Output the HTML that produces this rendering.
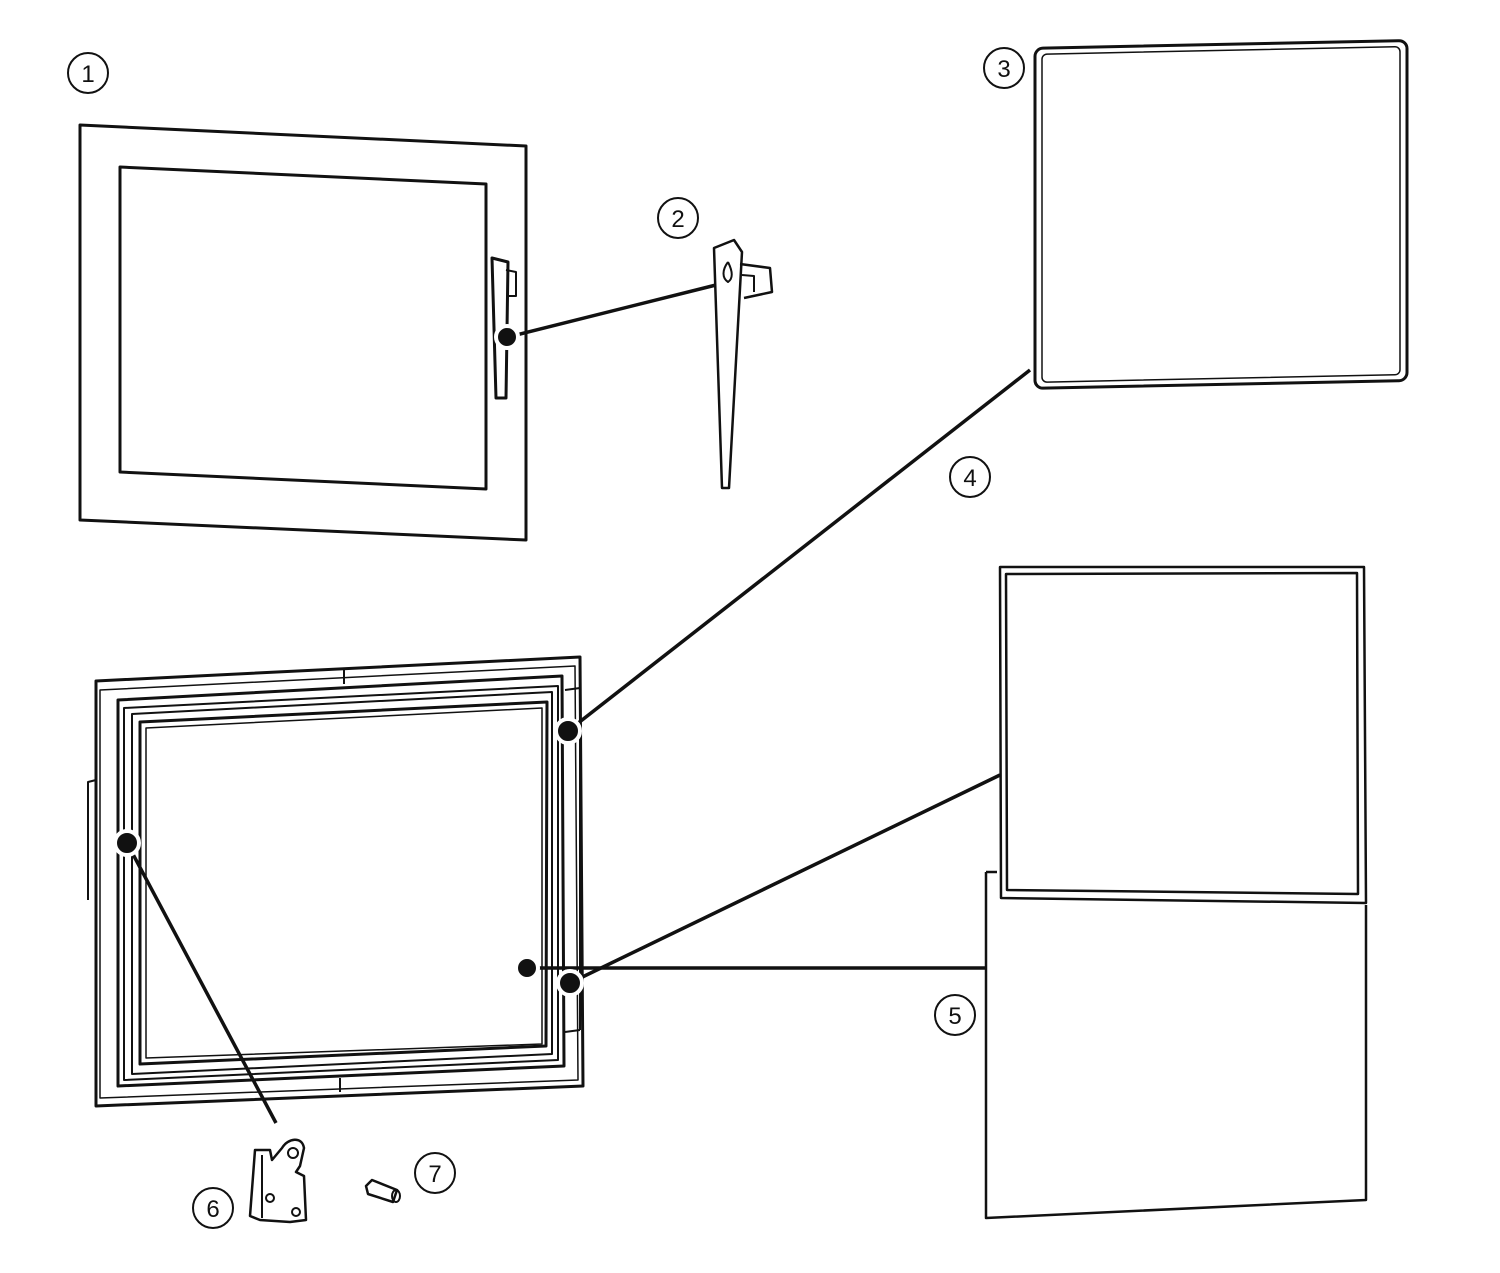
<!DOCTYPE html>
<html><head><style>html,body{margin:0;padding:0;background:#fff}svg{display:block}</style></head>
<body>
<svg width="1500" height="1273" viewBox="0 0 1500 1273" xmlns="http://www.w3.org/2000/svg" font-family="Liberation Sans, sans-serif">
<g fill="none" stroke="#111" stroke-linejoin="round">
<!-- 1: door -->
<path d="M80 125 L526 146 L526 540 L80 520 Z" stroke-width="3"/>
<path d="M120 167 L486 184 L486 489 L120 472 Z" stroke-width="3"/>
<!-- handle on door -->
<path d="M492 258 L508 262 L506 398 L496 398 Z" stroke-width="3"/>
<path d="M506 270 L516 272 L516 296 L506 296" stroke-width="2"/>
<!-- 2: handle -->
<path d="M714 248 L734 240 L742 252 L729 488 L722 488 Z" stroke-width="2.5"/>
<path d="M714 248 L722 488" stroke-width="1.5"/>
<path d="M740 264 L770 268 L772 292 L744 298" stroke-width="2.5"/>
<path d="M742 275 L754 276 L754 292" stroke-width="2"/>
<path d="M728 262 C722 270 722 278 728 282 C734 278 732 270 728 262" stroke-width="2"/>
<!-- 3: gasket -->
<rect x="1035" y="48" width="372" height="340" rx="8" transform="skewY(-1.2) translate(0,22)" stroke-width="3"/>
<rect x="1042" y="54" width="358" height="328" rx="5" transform="skewY(-1.2) translate(0,22)" stroke-width="1.5"/>
<!-- 5: glass pieces -->
<path d="M1000 567 L1364 567 L1366 903 L1001 898 Z" stroke-width="2.5"/>
<path d="M1006 574 L1357 573 L1358 894 L1007 890 Z" stroke-width="2.5"/>
<path d="M986 872 L986 1218 L1366 1200 L1366 905" stroke-width="2.5"/>
<path d="M986 872 L997 872" stroke-width="2.5"/>
<!-- bottom frame -->
<path d="M96 681 L580 657 L583 1086 L96 1106 Z" stroke-width="3"/>
<path d="M100 690 L575 666 L578 1080 L100 1098 Z" stroke-width="1.5"/>
<path d="M118 700 L562 676 L564 1066 L118 1086 Z" stroke-width="3"/>
<path d="M124 708 L558 686 L558 1060 L124 1080 Z" stroke-width="2"/>
<path d="M132 714 L552 692 L552 1054 L132 1074 Z" stroke-width="2"/>
<path d="M140 722 L547 702 L546 1046 L140 1064 Z" stroke-width="3"/>
<path d="M146 728 L542 708 L542 1044 L146 1058 Z" stroke-width="1.5"/>
<path d="M565 690 L580 688 M565 1032 L580 1030 M580 720 L580 1030" stroke-width="2"/>
<path d="M96 780 L88 782 L88 900" stroke-width="2"/>
<path d="M344 670 L344 684 M340 1078 L340 1092" stroke-width="2"/>
<!-- 6: hinge -->
<path d="M255 1150 L270 1150 L272 1160 L282 1148 C288 1138 302 1136 304 1148 L300 1166 L296 1172 L304 1176 L306 1220 L290 1222 L260 1220 L250 1216 Z" stroke-width="2.5"/>
<circle cx="293" cy="1153" r="5" stroke-width="2"/>
<circle cx="270" cy="1198" r="4" stroke-width="2"/>
<circle cx="296" cy="1212" r="4" stroke-width="2"/>
<path d="M262 1155 L262 1218" stroke-width="2"/>
<!-- 7: pin -->
<path d="M366 1186 L372 1180 L397 1190 L393 1202 L368 1194 Z" stroke-width="2.5"/>
<ellipse cx="396" cy="1196" rx="4" ry="6" stroke-width="2"/>
</g>
<!-- leader lines -->
<g stroke="#111" stroke-width="3.5" fill="none">
<line x1="508" y1="337" x2="716" y2="285"/>
<line x1="568" y1="731" x2="1030" y2="370"/>
<line x1="570" y1="983" x2="1000" y2="775"/>
<line x1="527" y1="968" x2="986" y2="968"/>
<line x1="127" y1="843" x2="276" y2="1123"/>
</g>
<g stroke="#fff" stroke-width="4" fill="#111">
<circle cx="507" cy="337" r="11"/>
<circle cx="568" cy="731" r="12"/>
<circle cx="127" cy="843" r="12"/>
<circle cx="527" cy="968" r="11"/>
<circle cx="570" cy="983" r="12"/>
</g>
<!-- number callouts -->
<g fill="none" stroke="#111" stroke-width="2">
<circle cx="88" cy="73" r="20"/>
<circle cx="678" cy="218" r="20"/>
<circle cx="1004" cy="68" r="20"/>
<circle cx="970" cy="477" r="20"/>
<circle cx="955" cy="1015" r="20"/>
<circle cx="213" cy="1208" r="20"/>
<circle cx="435" cy="1173" r="20"/>
</g>
<g font-size="24" text-anchor="middle" fill="#111">
<text x="88" y="82">1</text>
<text x="678" y="227">2</text>
<text x="1004" y="77">3</text>
<text x="970" y="486">4</text>
<text x="955" y="1024">5</text>
<text x="213" y="1217">6</text>
<text x="435" y="1182">7</text>
</g>
</svg>
</body></html>
